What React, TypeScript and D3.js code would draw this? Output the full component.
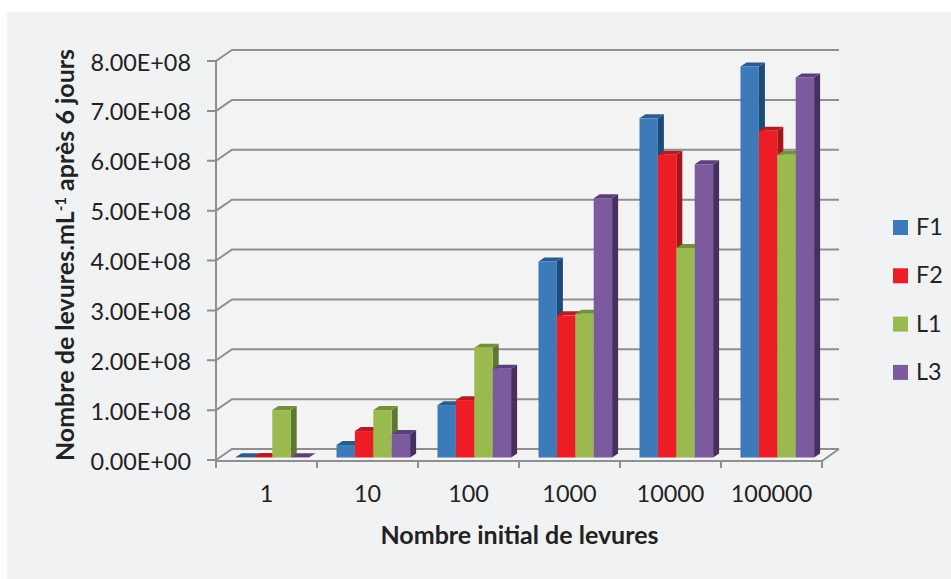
import React from "react";
import * as d3 from "d3";

const categories = ["1", "10", "100", "1000", "10000", "100000"];
const seriesNames = ["F1", "F2", "L1", "L3"];
const f1 = [0.5e6, 2.5e7, 1.05e8, 3.93e8, 6.8e8, 7.84e8];
const f2 = [1e6, 5.3e7, 1.15e8, 2.85e8, 6.07e8, 6.55e8];
const l1 = [9.5e7, 9.5e7, 2.2e8, 2.88e8, 4.2e8, 6.07e8];
const l3 = [0.5e6, 4.7e7, 1.78e8, 5.2e8, 5.88e8, 7.62e8];
const seriesValues = [f1, f2, l1, l3];
const yTicks = [0, 1e8, 2e8, 3e8, 4e8, 5e8, 6e8, 7e8, 8e8];
const yTickLabels = ["0.00E+00", "1.00E+08", "2.00E+08", "3.00E+08", "4.00E+08", "5.00E+08", "6.00E+08", "7.00E+08", "8.00E+08"];
const fronts = ["#3d7ab9", "#ee1c25", "#9aba4f", "#7b5b9e"];
const tops = ["#2a5c8e", "#b71c22", "#73913b", "#5b4179"];
const sides = ["#1d4a78", "#a5161c", "#5f7831", "#45305f"];

const font = "Lato, 'Open Sans', sans-serif";
const W = 951, H = 579;
const DX = 16, DY = 11;
const x0 = d3.scaleBand<string>().domain(categories).range([216, 822]);
const yFront = d3.scaleLinear().domain([0, 8e8]).range([460, 61]);
const yBar = d3.scaleLinear().domain([0, 8e8]).range([457.5, 58.5]);
const BARW = 18.4, BARDX = 6, BARDY = 4;
const GRID = "#8f8f8f";
const INK = "#222222";

export default function App() {
  const barX = (c: string, s: number) => x0(c)! + 19.5 + s * BARW;
  return (
    <svg width={W} height={H} style={{ position: "fixed", left: 0, top: 0, display: "block" }}>
      <rect width={W} height={H} fill="#ffffff" />
      <rect x={7} y={12} width={W - 7} height={H - 12} fill="#f1f2f4" />
      <path d={`M216,61L232,50H839V449L822,461H216Z`} fill="#f3f3f3" />

      {yTicks.map((t) => {
        const y = yFront(t);
        return (
          <g key={t} fill="none" stroke={GRID} strokeWidth={2}>
            <path d={`M207,${y}H216L${216 + DX},${y - DY}H${822 + DX + 1}`} />
          </g>
        );
      })}
      <path d={`M216,61V461H822L839,449`} fill="none" stroke={GRID} strokeWidth={2} />
      {d3.range(0, 7).map((i) => {
        const x = i < 6 ? x0(categories[i])! : 822;
        return <line key={i} x1={x} x2={x} y1={461} y2={468} stroke={GRID} strokeWidth={2} />;
      })}

      {categories.map((c, ci) => (
        <g key={c}>
          {[0, 1, 2, 3].map((s) => {
            const v = seriesValues[s][ci];
            const x = barX(c, s);
            const yt = yBar(v);
            const yb = yBar(0);
            const r = x + BARW;
            return (
              <g key={s}>
                <path d={`M${r},${yt}l${BARDX},${-BARDY}V${yb - BARDY}l${-BARDX},${BARDY}Z`} fill={sides[s]} />
                <path d={`M${x},${yt}l${BARDX},${-BARDY}H${r + BARDX}l${-BARDX},${BARDY}Z`} fill={tops[s]} />
                <rect x={x} y={yt} width={BARW} height={yb - yt} fill={fronts[s]} />
              </g>
            );
          })}
        </g>
      ))}

      {yTicks.map((t, i) => (
        <text key={t} x={191} y={yFront(t) + 9.5} textAnchor="end" fontFamily={font} fontSize={23.4} fill={INK}>
          {yTickLabels[i]}
        </text>
      ))}
      {categories.map((c) => (
        <text key={c} x={x0(c)! + x0.bandwidth() / 2} y={502} textAnchor="middle" fontFamily={font} fontSize={23.4} fill={INK}>
          {c}
        </text>
      ))}
      <text x={519.5} y={544} textAnchor="middle" fontFamily={font} fontSize={25} fontWeight={700} fill={INK}>
        Nombre initial de levures
      </text>
      <text transform="translate(74,255) rotate(-90)" textAnchor="middle" fontFamily={font} fontSize={25} fontWeight={700} fill={INK}>
        Nombre de levures.mL
        <tspan dy={-8} fontSize={15}>-1</tspan>
        <tspan dy={8}> après 6 jours</tspan>
      </text>

      {seriesNames.map((n, i) => (
        <g key={n}>
          <rect x={893} y={220 + i * 48.3} width={15} height={15} fill={fronts[i]} />
          <text x={916} y={235 + i * 48.3} fontFamily={font} fontSize={23.4} fill={INK}>{n}</text>
        </g>
      ))}
    </svg>
  );
}
